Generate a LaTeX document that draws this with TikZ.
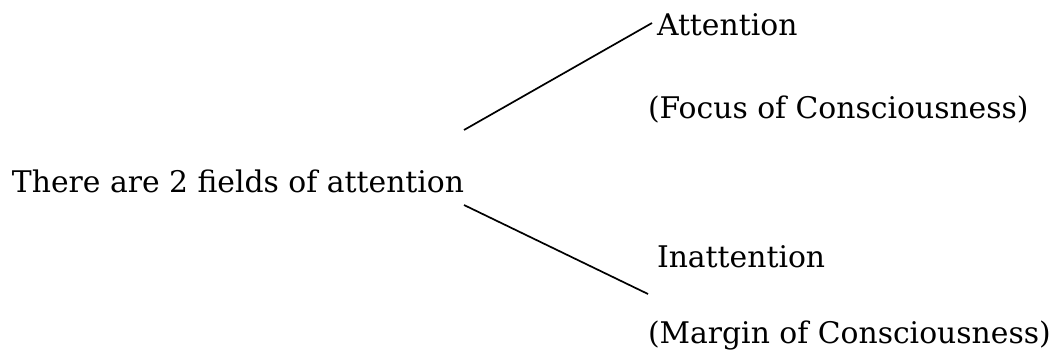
\documentclass[tikz,border=0pt]{standalone}
\usepackage{fontspec}
\setmainfont{DejaVu Serif}
\begin{document}
\begin{tikzpicture}[x=1pt,y=-1pt,
  lbl/.style={anchor=base west,inner sep=0pt,outer sep=0pt,font=\fontsize{29.8}{36}\selectfont},
  conn/.style={line width=1.7pt,black}]
\useasboundingbox (0,0) rectangle (1059,353);
\node[lbl] (main) at (12,192) {There are 2 fields of attention};
\node[lbl] (att) at (657,36) {Attention};
\node[lbl] (focus) at (648,118) {(Focus of Consciousness)};
\node[lbl] (inatt) at (657,267) {Inattention};
\node[lbl] (margin) at (648,343) {(Margin of Consciousness)};
\coordinate (s1) at (464,130);
\coordinate (e1) at (652,23);
\coordinate (s2) at (464,205);
\coordinate (e2) at (648,294);
\draw[conn] (s1) -- (e1);
\draw[conn] (s2) -- (e2);
\end{tikzpicture}
\end{document}
